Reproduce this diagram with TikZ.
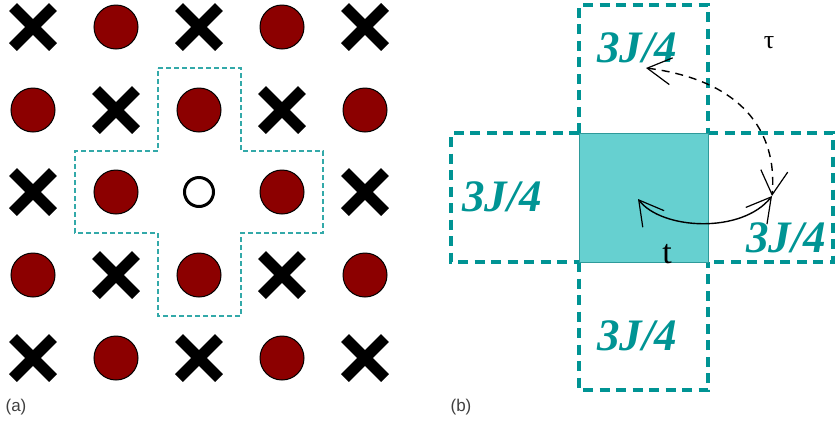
\documentclass[tikz,border=0pt]{standalone}
\usepackage{fontspec}
\setmainfont{Liberation Serif}
\newfontfamily\labelsans{Liberation Sans}
\usetikzlibrary{arrows.meta}
\definecolor{dotred}{HTML}{8C0000}
\definecolor{thinteal}{HTML}{33A9A9}
\definecolor{thickteal}{HTML}{009494}
\definecolor{sqfill}{HTML}{66D0D0}
\definecolor{sqedge}{HTML}{2E9A9A}
\definecolor{panelgray}{HTML}{404040}
\begin{document}
\begin{tikzpicture}[x=1pt,y=-1pt,
  dot/.style={circle,draw=black,line width=1pt,fill=dotred,minimum size=44pt,inner sep=0pt},
  hole/.style={circle,draw=black,line width=3pt,fill=white,minimum size=29pt,inner sep=0pt},
  crossline/.style={line width=11pt,line cap=butt,black},
  thindash/.style={thinteal,line width=1.2pt,dash pattern=on 5pt off 3pt},
  thickdash/.style={thickteal,line width=4pt,dash pattern=on 10pt off 6.5pt},
  jlabel/.style={font=\bfseries\itshape\fontsize{45}{48}\selectfont,text=thickteal,anchor=base west,inner sep=0pt},
  panel/.style={font=\labelsans\fontsize{17}{20}\selectfont,text=panelgray,inner sep=0pt},
  barb/.tip={Straight Barb[length=24pt,width=27pt,line width=1.2pt]},
  hop/.style={line width=1.4pt,black,barb-barb}
]
\useasboundingbox (0,0) rectangle (835,424);

% ---------- panel (a) ----------
\foreach \i/\x in {0/33,1/116,2/199,3/282,4/365}{
  \foreach \j/\y in {0/27,1/110,2/192,3/275,4/358}{
    \pgfmathtruncatemacro{\parity}{mod(\i+\j,2)}
    \pgfmathtruncatemacro{\iscenter}{(\i==2)&&(\j==2)}
    \ifnum\parity=1
      \node[dot] (d\i\j) at (\x,\y) {};
    \else
      \ifnum\iscenter=0
        \draw[crossline] (\x-20,\y-20) -- (\x+20,\y+20) (\x-20,\y+20) -- (\x+20,\y-20);
      \fi
    \fi
  }
}
\node[hole] (h) at (199,192) {};
\draw[thindash] (158,68) -- (241,68) -- (241,151) -- (323,151) -- (323,233) -- (241,233)
  -- (241,316) -- (158,316) -- (158,233) -- (75,233) -- (75,151) -- (158,151) -- cycle;
\node[panel] (pa) at (16,407) {(a)};

% ---------- panel (b) ----------
\draw[thickdash] (579,133) -- (579,5) -- (708,5) -- (708,133);
\draw[thickdash] (579,133) -- (451,133) -- (451,262) -- (579,262);
\draw[thickdash] (708,133) -- (833,133) -- (833,262) -- (708,262);
\draw[thickdash] (579,262) -- (579,390) -- (708,390) -- (708,262);
\node[draw=sqedge,line width=1pt,fill=sqfill,minimum width=129pt,minimum height=129pt,inner sep=0pt] (sq) at (643.5,197.5) {};

\node[jlabel] (lt) at (597,62) {3J/4};
\node[jlabel] (ll) at (462,211) {3J/4};
\node[jlabel] (lr) at (746,252) {3J/4};
\node[jlabel] (lb) at (597,350) {3J/4};

\node[font=\fontsize{26}{30}\selectfont,inner sep=0pt] (tau) at (769,43) {τ};
\node[font=\fontsize{34}{38}\selectfont,inner sep=0pt,anchor=base] (t) at (667,263) {t};

\coordinate (A) at (646,68);
\coordinate (B) at (772,196);
\coordinate (C) at (638,199);
\draw[hop,dash pattern=on 8pt off 6pt] (A) .. controls (740,80) and (778,130) .. (B);
\draw[hop] (C) .. controls (662,230) and (742,234) .. (B);

\node[panel] (pb) at (461,407) {(b)};
\end{tikzpicture}
\end{document}
